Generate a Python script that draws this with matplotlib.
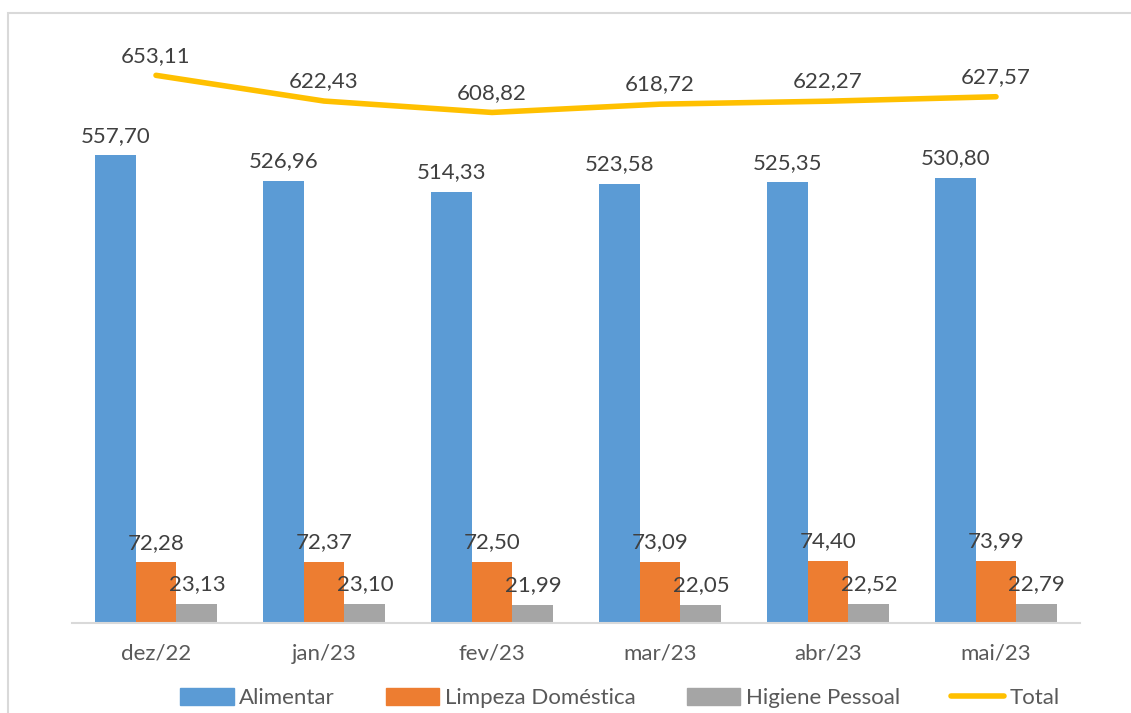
import matplotlib.pyplot as plt
import numpy as np
from matplotlib.patches import Rectangle
from matplotlib.lines import Line2D

# categorias (meses)
meses = ["dez/22", "jan/23", "fev/23", "mar/23", "abr/23", "mai/23"]
# valores de cada série
alimentar = [557.70, 526.96, 514.33, 523.58, 525.35, 530.80]
limpeza = [72.28, 72.37, 72.50, 73.09, 74.40, 73.99]
higiene = [23.13, 23.10, 21.99, 22.05, 22.52, 22.79]
total = [653.11, 622.43, 608.82, 618.72, 622.27, 627.57]

plt.rcParams['font.family'] = ['Lato', 'DejaVu Sans']

W, H = 1131, 713
fig = plt.figure(figsize=(W / 100, H / 100), dpi=100)
ax = fig.add_axes([72 / W, (H - 623) / H, (1080 - 72) / W, (623 - 36) / H])

# moldura externa do gráfico
fig.patches.append(Rectangle((8 / W, -0.1), 1.1, (H - 13) / H + 0.1, transform=fig.transFigure,
                             fill=False, edgecolor="#D9D9D9", linewidth=1.5))

x = np.arange(len(meses))
w = 0.243
cores = ["#5B9BD5", "#ED7D31", "#A5A5A5"]
txt = "#404040"

for i, (serie, cor) in enumerate(zip([alimentar, limpeza, higiene], cores)):
    pos = x + (i - 1) * w
    ax.bar(pos, serie, width=w, color=cor, zorder=2)
    for px, v in zip(pos, serie):
        ax.annotate(f"{v:.2f}".replace(".", ","), (px, v), xytext=(0, 7), textcoords="offset points",
                    ha="center", va="bottom", fontsize=16, color=txt)

ax.plot(x, total, color="#FFC000", linewidth=4, solid_capstyle="round", zorder=3)
for px, v in zip(x, total):
    ax.annotate(f"{v:.2f}".replace(".", ","), (px, v), xytext=(0, 7), textcoords="offset points",
                ha="center", va="bottom", fontsize=16, color=txt)

ax.set_xlim(-0.5, len(meses) - 0.5)
ax.set_ylim(0, 700)
ax.set_xticks(x)
ax.set_xticklabels(meses, fontsize=16, color="#595959")
ax.tick_params(axis="x", length=0, pad=15)
ax.set_yticks([])
for s in ["top", "right", "left"]:
    ax.spines[s].set_visible(False)
ax.spines["bottom"].set_color("#D9D9D9")
ax.spines["bottom"].set_linewidth(1.5)

handles = [Rectangle((0, 0), 1, 1, color=c) for c in cores]
handles.append(Line2D([0], [0], color="#FFC000", linewidth=4, solid_capstyle="round"))
fig.legend(handles, ["Alimentar", "Limpeza Doméstica", "Higiene Pessoal", "Total"],
           loc="center", bbox_to_anchor=(620 / W, (H - 698) / H), ncol=4, frameon=False,
           fontsize=16, labelcolor="#595959", handlelength=2.4, handleheight=0.8,
           handletextpad=0.25, columnspacing=2.3)

fig.savefig("out.png", dpi=100)
